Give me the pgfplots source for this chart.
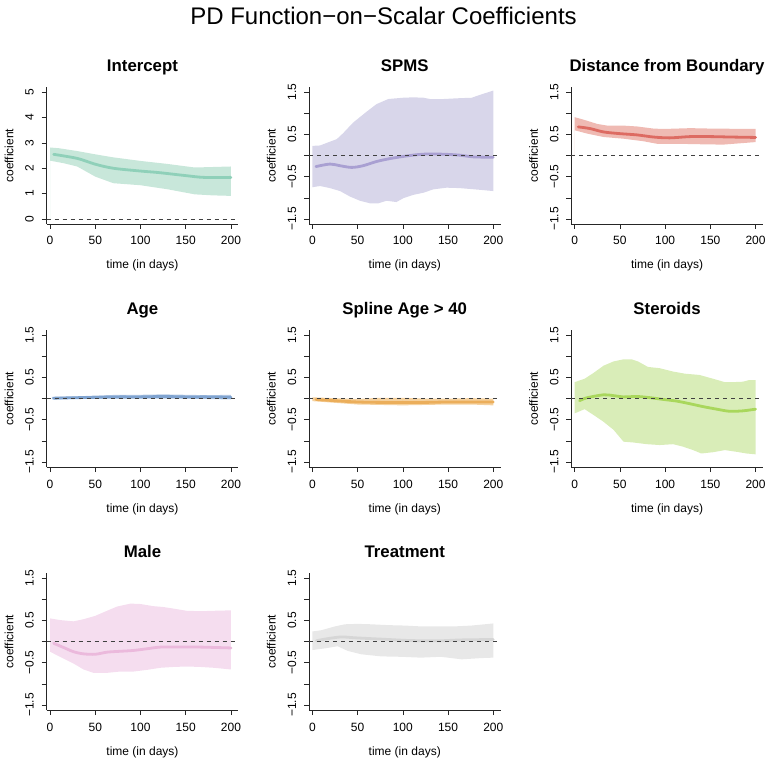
\documentclass[border=0pt]{standalone}
\usepackage{pgfplots}
\pgfplotsset{compat=1.18}
\usepackage{fontspec}
\setmainfont{Liberation Sans}
\definecolor{intB}{HTML}{C8E7DA}\definecolor{intL}{HTML}{8FD0B9}
\definecolor{spmB}{HTML}{D8D6EA}\definecolor{spmL}{HTML}{A9A0D2}
\definecolor{disB}{HTML}{EFBAB3}\definecolor{disL}{HTML}{DD6B62}
\definecolor{ageB}{HTML}{B5CBE6}\definecolor{ageL}{HTML}{7FA3D0}
\definecolor{splB}{HTML}{F5D19E}\definecolor{splL}{HTML}{EBAE5B}
\definecolor{steB}{HTML}{D9EDB8}\definecolor{steL}{HTML}{A9D75C}
\definecolor{malB}{HTML}{F5DDEF}\definecolor{malL}{HTML}{EBB9DC}
\definecolor{treB}{HTML}{E8E8E8}\definecolor{treL}{HTML}{D6D6D6}
\pgfplotsset{
  panel/.style={
    scale only axis, width=191.5pt, height=136.8pt,
    xmin=-3.7, xmax=208, ymin=-1.62, ymax=1.62,
    axis x line*=bottom, axis y line*=left,
    axis line style={-, line width=0.6pt, black!85},
    xtick={0,50,100,150,200}, xticklabels={0,50,100,150,200},
    ytick={-1.5,-1,-0.5,0,0.5,1,1.5}, yticklabels={−1.5,,−0.5,,0.5,,1.5},
    tick align=outside, major tick length=5pt,
    tick style={line width=0.6pt, black!85},
    tick label style={font=\fontsize{12}{14}\selectfont},
    xticklabel style={anchor=base, yshift=-16pt},
    yticklabel style={xshift=-8pt, rotate=90, anchor=base},
    title style={at={(axis description cs:0.5,1)}, anchor=base, yshift=10pt, font=\bfseries\fontsize{16.8}{18}\selectfont},
    xlabel={time (in days)}, ylabel={coefficient},
    xlabel style={at={(axis description cs:0.5,0)}, anchor=base, yshift=-45pt, font=\fontsize{12}{14}\selectfont},
    ylabel style={at={([xshift=-33.4pt]axis description cs:0,0.5)}, anchor=base, rotate=0, font=\fontsize{12}{14}\selectfont},
    clip=false,
  },
  band/.style={draw=none, fill=#1},
  mline/.style={line width=2.8pt, color=#1, line cap=round, smooth, tension=0.5},
  zline/.style={black!75, line width=0.7pt, dash pattern=on 4pt off 4pt},
}
\begin{document}
\begin{tikzpicture}
\useasboundingbox (0,0) rectangle (767pt,758pt);
\node[anchor=base, font=\fontsize{24}{28}\selectfont] at (383.5pt,733pt) {PD Function−on−Scalar Coefficients};

% Intercept
\begin{axis}[panel, at={(46.7pt,534pt)}, anchor=south west, title={Intercept},
  ymin=-0.2, ymax=5.2, ytick={0,1,2,3,4,5}, yticklabels={0,1,2,3,4,5}]
\addplot[band=intB] coordinates {(0,2.82)(10,2.79)(30,2.68)(50,2.55)(70,2.43)(100,2.29)(130,2.17)(160,2.03)(180,2.05)(200,2.07)
 (200,0.91)(180,0.93)(160,0.97)(130,1.17)(100,1.33)(70,1.41)(50,1.67)(30,2.07)(15,2.2)(0,2.30)} \closedcycle;
\addplot[mline=intL] coordinates {(4,2.55)(30,2.39)(50,2.16)(70,2.0)(100,1.89)(120,1.83)(150,1.71)(170,1.64)(200,1.64)};
\addplot[zline] coordinates {(-3.7,0)(208,0)};
\end{axis}

% SPMS
\begin{axis}[panel, at={(309pt,534pt)}, anchor=south west, title={SPMS}]
\addplot[band=spmB] coordinates {(0,0.23)(8.5,0.24)(19.5,0.33)(27,0.39)(34,0.53)(45,0.78)(60,1.04)(71,1.22)(84,1.34)(100,1.37)(112,1.38)(123,1.37)(130,1.34)(145,1.34)(163,1.36)(176,1.37)(187,1.45)(200,1.54)
 (200,-0.84)(185,-0.81)(163,-0.77)(148.4,-0.76)(133.7,-0.80)(122.7,-0.88)(111.6,-0.93)(100.5,-1.01)(93,-1.10)(82,-1.07)(73,-1.13)(63.7,-1.13)(52.7,-1.07)(41.6,-0.97)(30.6,-0.84)(19.5,-0.77)(8.5,-0.72)(0,-0.75)} \closedcycle;
\addplot[mline=spmL] coordinates {(4,-0.26)(19.5,-0.20)(30.6,-0.24)(43.5,-0.28)(56,-0.24)(71,-0.14)(86,-0.07)(100.5,-0.02)(115,0.02)(130,0.04)(148,0.03)(163,0.01)(178,-0.03)(200,-0.04)};
\addplot[zline] coordinates {(-3.7,0)(208,0)};
\end{axis}

% Distance from Boundary
\begin{axis}[panel, at={(571.3pt,534pt)}, anchor=south west, title={Distance from Boundary}]
\addplot[band=disB] coordinates {(0,0.91)(10,0.85)(25,0.75)(36,0.71)(54,0.71)(69,0.69)(87,0.64)(98,0.63)(128,0.65)(150,0.64)(200,0.63)
 (200,0.32)(164,0.26)(135,0.27)(113,0.28)(91,0.28)(76,0.34)(54,0.40)(32,0.44)(14,0.52)(0,0.60)} \closedcycle;
\addplot[mline=disL] coordinates {(4,0.68)(17,0.64)(32,0.56)(50,0.52)(69,0.49)(87,0.44)(105,0.42)(128,0.45)(150,0.45)(172,0.44)(200,0.43)};
\addplot[zline] coordinates {(-3.7,0)(208,0)};
\end{axis}

% Age
\begin{axis}[panel, at={(46.7pt,291pt)}, anchor=south west, title={Age}]
\addplot[band=ageB] coordinates {(2,0.04)(25,0.05)(50,0.07)(75,0.09)(100,0.09)(125,0.1)(150,0.09)(175,0.08)(200,0.09)
 (200,-0.02)(175,-0.01)(150,0)(125,0)(100,0)(75,0)(50,0)(25,-0.01)(2,-0.02)} \closedcycle;
\addplot[mline=ageL] coordinates {(4,0.01)(25,0.02)(50,0.03)(75,0.04)(100,0.04)(125,0.05)(150,0.04)(175,0.04)(200,0.03)};
\addplot[zline] coordinates {(-3.7,0)(208,0)};
\end{axis}

% Spline Age > 40
\begin{axis}[panel, at={(309pt,291pt)}, anchor=south west, title={Spline Age > 40}]
\addplot[band=splB] coordinates {(0,0.03)(25,0.01)(50,-0.01)(75,0.02)(100,0.02)(125,0.0)(150,0.0)(175,0.01)(200,0.0)
 (200,-0.16)(175,-0.14)(150,-0.14)(125,-0.15)(100,-0.16)(75,-0.15)(50,-0.14)(25,-0.1)(0,-0.06)} \closedcycle;
\addplot[mline=splL] coordinates {(4,-0.02)(25,-0.05)(50,-0.08)(75,-0.09)(100,-0.09)(125,-0.09)(150,-0.08)(175,-0.08)(200,-0.08)};
\addplot[zline] coordinates {(-3.7,0)(208,0)};
\end{axis}

% Steroids
\begin{axis}[panel, at={(571.3pt,291pt)}, anchor=south west, title={Steroids}]
\addplot[band=steB] coordinates {(0,0.39)(11,0.47)(21,0.61)(32,0.78)(43,0.88)(54,0.93)(63,0.93)(70,0.88)(81,0.75)(94,0.72)(109,0.64)(122,0.59)(138,0.56)(153,0.47)(166,0.39)(175,0.39)(186,0.40)(193,0.44)(200,0.44)
 (200,-1.32)(190,-1.30)(179,-1.26)(166,-1.22)(153,-1.27)(140,-1.30)(131,-1.22)(120,-1.14)(109,-1.08)(94,-1.10)(80,-1.08)(65,-1.04)(54,-1.02)(43,-0.74)(32,-0.55)(21,-0.39)(11,-0.25)(0,-0.35)} \closedcycle;
\addplot[mline=steL] coordinates {(5.5,-0.05)(13.6,0.02)(32,0.09)(43,0.07)(54,0.04)(69,0.05)(84,0.02)(98,-0.02)(113,-0.06)(127,-0.12)(142,-0.19)(157,-0.25)(171,-0.30)(186,-0.29)(200,-0.25)};
\addplot[zline] coordinates {(-3.7,0)(208,0)};
\end{axis}

% Male
\begin{axis}[panel, at={(46.7pt,48pt)}, anchor=south west, title={Male}]
\addplot[band=malB] coordinates {(0,0.55)(11,0.51)(26,0.48)(37,0.53)(50,0.61)(63,0.73)(74,0.83)(89,0.90)(100,0.89)(114,0.84)(125,0.82)(137,0.78)(151,0.73)(166,0.72)(181,0.73)(200,0.74)
 (200,-0.66)(181,-0.62)(166,-0.60)(151,-0.59)(137,-0.60)(122,-0.62)(107,-0.67)(92,-0.71)(77,-0.71)(63,-0.74)(48,-0.74)(37,-0.66)(26,-0.52)(11,-0.36)(0,-0.24)} \closedcycle;
\addplot[mline=malL] coordinates {(4,-0.04)(15,-0.14)(26,-0.24)(37,-0.29)(50,-0.30)(63,-0.25)(77,-0.23)(92,-0.21)(107,-0.17)(122,-0.13)(144,-0.13)(166,-0.13)(184,-0.14)(200,-0.15)};
\addplot[zline] coordinates {(-3.7,0)(208,0)};
\end{axis}

% Treatment
\begin{axis}[panel, at={(309pt,48pt)}, anchor=south west, title={Treatment}]
\addplot[band=treB] coordinates {(0,0.24)(10,0.27)(25,0.36)(36,0.41)(50,0.42)(65,0.41)(84,0.39)(102,0.38)(120,0.36)(139,0.36)(157,0.36)(176,0.38)(200,0.43)
 (200,-0.38)(187,-0.39)(165,-0.42)(142,-0.36)(120,-0.38)(98,-0.36)(76,-0.35)(54,-0.30)(39,-0.22)(28,-0.11)(14,-0.16)(0,-0.20)} \closedcycle;
\addplot[mline=treL] coordinates {(4.4,0.02)(17,0.07)(32,0.11)(47,0.09)(65,0.07)(84,0.05)(102,0.03)(120,0.02)(142,0.02)(165,0.04)(200,0.05)};
\addplot[zline] coordinates {(-3.7,0)(208,0)};
\end{axis}
\end{tikzpicture}
\end{document}
